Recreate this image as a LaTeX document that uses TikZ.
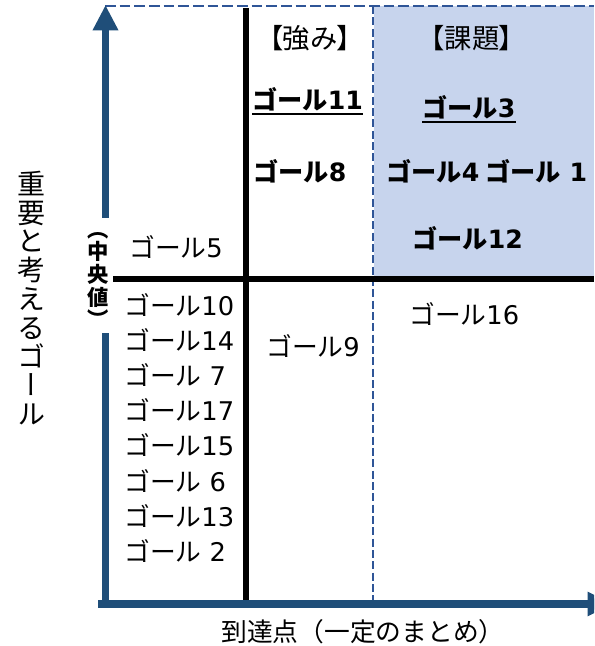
\documentclass[tikz,border=0pt]{standalone}
\usepackage{fontspec}
\setmainfont{Noto Sans CJK JP}
\newfontfamily\dv{DejaVu Sans}
\newfontfamily\jpv[RawFeature=+vert]{Noto Sans CJK JP}
\newfontfamily\jpp[CharacterWidth=AlternateProportional]{Noto Sans CJK JP}
\usetikzlibrary{arrows.meta}
\definecolor{axisblue}{RGB}{31,78,121}
\definecolor{dashblue}{RGB}{47,85,151}
\definecolor{fillblue}{RGB}{199,212,237}
\newcommand\gl[1]{ゴール{\dv #1}}
\begin{document}
\begin{tikzpicture}[x=0.75pt,y=-0.75pt,
  lbl/.style={inner sep=0pt, font=\fontsize{19.3}{20}\selectfont},
  bld/.style={inner sep=0pt, font=\fontsize{18.9}{20}\selectfont\bfseries},
  head/.style={inner sep=0pt, font=\jpp\fontsize{20.5}{21}\selectfont},
  axis/.style={axisblue, line width=5pt},
  dline/.style={dashblue, line width=1.8pt, dash pattern=on 6pt off 2.5pt},
  divider/.style={black, line width=3.8pt},
  uline/.style={black, line width=1.3pt}]
\clip (0,0) rectangle (594,646);
\fill[white] (0,0) rectangle (594,646);
% quadrant highlight
\fill[fillblue] (374,6) rectangle (594,279);
% dashed borders
\draw[dline, line width=2.1pt, dash pattern=on 8pt off 3pt] (105,6) -- (594,6);
\draw[dline] (373,6) -- (373,601);
% dividers
\draw[divider] (246,8) -- (246,601);
\draw[divider] (113,279) -- (594,279);
% axes
\draw[axis, -{Triangle[length=19pt,width=18pt]}] (105.5,607) -- (105.5,5);
\draw[axis, line width=5.5pt, -{Triangle[length=19pt,width=17pt]}] (98,604) -- (613,604);
% white gap for median label
\fill[white] (86,218) rectangle (113,333);
\node[inner sep=0pt, align=center, font=\jpv\fontsize{16}{17}\selectfont\bfseries] (median) at (98,280) {（\\中\\央\\値\\）};
% axis titles
\node[inner sep=0pt, align=center, font=\jpv\fontsize{21}{21.6}\selectfont] (ytitle) at (31,298) {重\\要\\と\\考\\え\\る\\ゴ\\ー\\ル};
\node[lbl, font=\fontsize{19.3}{20}\selectfont] (xtitle) at (363,632) {到達点（一定のまとめ）};
% quadrant headings
\node[head] (strength) at (310,38) {【強み】};
\node[head] (issue) at (472,38) {【課題】};
% upper quadrants
\node[bld, anchor=west] (g11) at (252,99) {\gl{11}};
\draw[uline] ([yshift=-3.4pt]g11.base west) -- ([yshift=-3.4pt]g11.base east);
\node[bld, anchor=west] (g3) at (422,107) {\gl{3}};
\draw[uline] ([yshift=-3.4pt]g3.base west) -- ([yshift=-3.4pt]g3.base east);
\node[bld, anchor=west] (g8) at (253,171) {\gl{8}};
\node[bld, anchor=west] (g4) at (386,171) {\gl{4} \gl{ 1}};
\node[bld, anchor=west] (g12) at (412,238) {\gl{12}};
\node[lbl, anchor=west] (g5) at (129,247) {\gl{5}};
% lower quadrants
\node[lbl, anchor=west] (g16) at (409,314) {\gl{16}};
\node[lbl, anchor=west] (g9) at (266,346) {\gl{9}};
\node[lbl, anchor=west] (g10) at (124,305) {\gl{10}};
\node[lbl, anchor=west] (g14) at (124,340) {\gl{14}};
\node[lbl, anchor=west] (g7) at (124,375) {\gl{ 7}};
\node[lbl, anchor=west] (g17) at (124,410) {\gl{17}};
\node[lbl, anchor=west] (g15) at (124,445) {\gl{15}};
\node[lbl, anchor=west] (g6) at (124,481) {\gl{ 6}};
\node[lbl, anchor=west] (g13) at (124,516) {\gl{13}};
\node[lbl, anchor=west] (g2) at (124,551) {\gl{ 2}};
\end{tikzpicture}
\end{document}
